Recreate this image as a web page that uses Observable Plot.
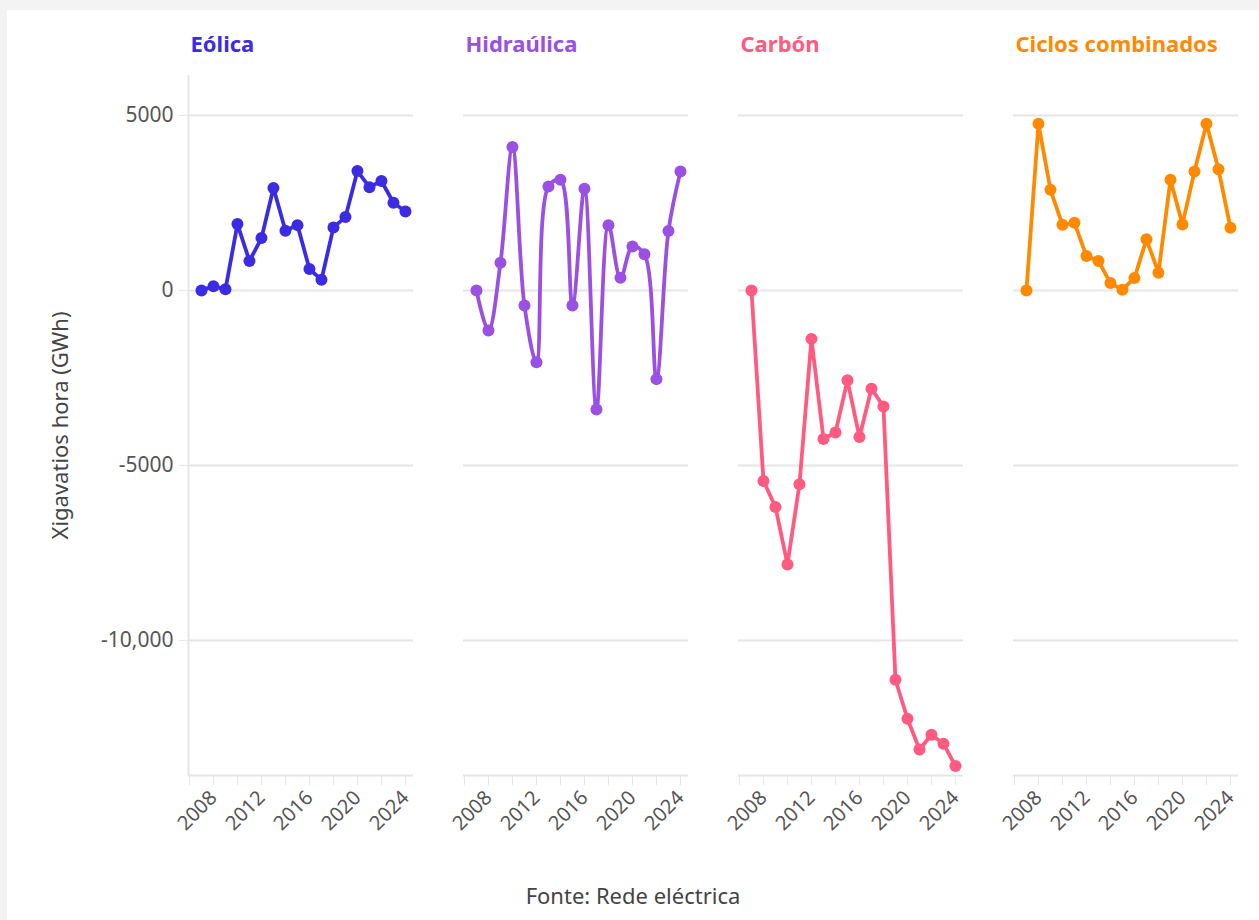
<!DOCTYPE html>
<html><head><meta charset="utf-8">
<script src="https://cdn.jsdelivr.net/npm/d3@7"></script>
<script src="https://cdn.jsdelivr.net/npm/@observablehq/plot@0.6"></script>
<style>
body{margin:0;background:#f3f3f3;font-family:"Noto Sans",sans-serif;}
#card{position:absolute;left:7px;top:10px;width:1252px;height:910px;background:#fff;overflow:hidden;}
#chart{position:absolute;left:0;top:0;}
#caption{position:absolute;left:0;width:1252px;top:870px;text-align:center;font-size:22px;line-height:30px;color:#444;}
</style></head><body><div id="card"><div id="chart"></div><div id="caption">Fonte: Rede eléctrica</div></div>
<script>
const sources = ["Eólica", "Hidraúlica", "Carbón", "Ciclos combinados"];
const colors = ["#3b2be3", "#9a50e3", "#ff5a80", "#ff8a00"];
const years = [2007, 2008, 2009, 2010, 2011, 2012, 2013, 2014, 2015, 2016, 2017, 2018, 2019, 2020, 2021, 2022, 2023, 2024];
const eolica = [0, 120, 30, 1895, 840, 1495, 2925, 1705, 1865, 610, 305, 1800, 2095, 3410, 2950, 3125, 2505, 2255];
const hidraulica = [0, -1145, 790, 4095, -430, -2050, 2970, 3160, -430, 2905, -3400, 1865, 360, 1255, 1030, -2535, 1695, 3400];
const carbon = [0, -5445, -6190, -7830, -5540, -1385, -4245, -4060, -2570, -4190, -2810, -3315, -11125, -12240, -13115, -12695, -12950, -13590];
const ciclos = [0, 4760, 2875, 1875, 1930, 980, 840, 210, 20, 355, 1460, 505, 3160, 1885, 3400, 4760, 3460, 1790];
const yTicks = [5000, 0, -5000, -10000];
const xTicks = [2006, 2008, 2010, 2012, 2014, 2016, 2018, 2020, 2022, 2024];
const yLabel = "Xigavatios hora (GWh)";

const series = [eolica, hidraulica, carbon, ciclos];
const data = sources.flatMap((s, i) => years.map((y, j) => ({source: s, year: y, value: series[i][j]})));
const xDomain = [2005.92, 2024.67];
const yDomain = [-13860, 6140];
const grey = "#e6e6e6";

const chart = Plot.plot({
  width: 1252,
  height: 860,
  marginTop: 65,
  marginBottom: 95,
  marginLeft: 181,
  marginRight: 21,
  style: {fontFamily: "'Noto Sans', sans-serif", background: "white"},
  fx: {domain: sources, axis: null, paddingInner: 50 / 275, paddingOuter: 0},
  x: {domain: xDomain},
  y: {domain: yDomain},
  color: {domain: sources, range: colors},
  marks: [
    Plot.gridY(yTicks, {stroke: grey, strokeOpacity: 1, strokeWidth: 2}),
    Plot.ruleY([yDomain[0]], {stroke: grey, strokeWidth: 2}),
    Plot.ruleX([0], {x: () => xDomain[0], fx: () => sources[0], stroke: grey, strokeWidth: 2}),
    Plot.axisY({ticks: yTicks, tickFormat: d => Math.abs(d) >= 10000 ? d3.format(",")(d).replace("−", "-") : String(d),
      tickSize: 9, tickPadding: 6, stroke: grey, fill: "#555", fontSize: 21, label: null}),
    Plot.axisY({ticks: [], tickSize: 0, label: yLabel, labelAnchor: "center", labelArrow: "none", labelOffset: 136,
      fill: "#444", fontSize: 22}),
    Plot.axisX({ticks: xTicks, tickFormat: d => d % 4 === 0 ? String(d) : "", tickRotate: -45,
      tickSize: 10, tickPadding: 9, stroke: grey, fill: "#555", fontSize: 20, label: null}),
    Plot.line(data, {filter: d => d.source !== "Hidraúlica", fx: "source", x: "year", y: "value", stroke: "source", strokeWidth: 3.8}),
    Plot.line(data, {filter: d => d.source === "Hidraúlica", fx: "source", x: "year", y: "value", stroke: "source", strokeWidth: 3.8, curve: "catmull-rom"}),
    Plot.dot(data, {fx: "source", x: "year", y: "value", fill: "source", r: 6}),
    Plot.text(sources, {fx: d => d, text: d => d, fill: d => d, frameAnchor: "top-left", lineAnchor: "middle",
      textAnchor: "start", dx: 2, dy: -31, fontWeight: "bold", fontSize: 22})
  ]
});
document.getElementById("chart").appendChild(chart);
</script></body></html>
